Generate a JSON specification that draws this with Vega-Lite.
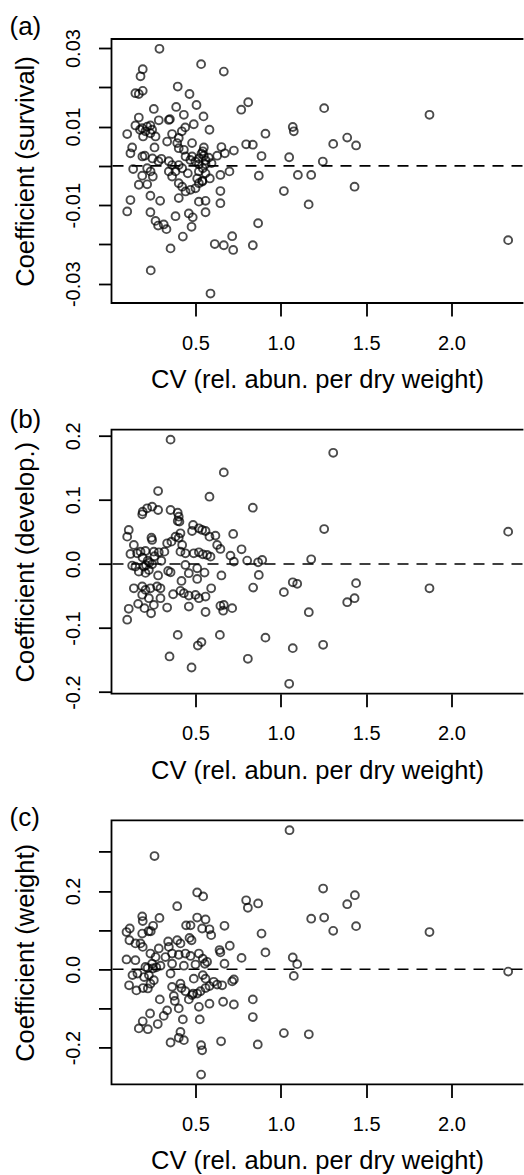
{
"$schema": "https://vega.github.io/schema/vega-lite/v6.json",
"padding": {"left": 7.5, "right": 0, "top": 12, "bottom": 0},
"bounds": "flush",
"spacing": 126.7,
"config": {
  "font": "Liberation Sans",
  "view": {"stroke": "black", "strokeWidth": 1.8, "strokeCap": "square", "strokeDash": [411, 264, 675, 0]},
  "axis": {"domain": false, "grid": false, "tickSize": 13, "tickWidth": 1.8, "tickColor": "black", "labelColor": "black", "labelFont": "Liberation Sans", "labelFontSize": 20, "titleColor": "black", "titleFont": "Liberation Sans", "titleFontSize": 25.5, "titleFontWeight": "normal", "labelOverlap": false, "labelFlush": false},
  "title": {"font": "Liberation Sans", "fontSize": 26, "fontWeight": "normal", "color": "black", "anchor": "start", "frame": "group", "dx": -102, "dy": 18, "baseline": "alphabetic", "offset": 7}
},
"datasets": {
"a": [
{"cv":0.289,"coef":0.0298},{"cv":0.533,"coef":0.0259},{"cv":0.666,"coef":0.024},{"cv":0.191,"coef":0.0246},{"cv":0.178,"coef":0.0228},{"cv":0.148,"coef":0.0185},{"cv":0.168,"coef":0.0183},{"cv":0.191,"coef":0.0191},{"cv":0.396,"coef":0.0202},{"cv":0.465,"coef":0.0183},{"cv":0.506,"coef":0.0155},{"cv":0.387,"coef":0.015},{"cv":0.256,"coef":0.0145},{"cv":0.432,"coef":0.013},{"cv":0.547,"coef":0.0126},{"cv":0.768,"coef":0.0143},{"cv":0.809,"coef":0.0162},{"cv":1.254,"coef":0.0147},{"cv":1.871,"coef":0.013},{"cv":0.168,"coef":0.0123},{"cv":0.285,"coef":0.0116},{"cv":0.344,"coef":0.0117},{"cv":0.35,"coef":0.0119},{"cv":0.1,"coef":0.0081},
{"cv":0.148,"coef":0.0103},{"cv":0.188,"coef":0.0096},{"cv":0.217,"coef":0.01},{"cv":0.236,"coef":0.0103},{"cv":0.246,"coef":0.0092},{"cv":0.193,"coef":0.0075},{"cv":0.236,"coef":0.0083},{"cv":0.266,"coef":0.0075},{"cv":0.207,"coef":0.0088},{"cv":0.175,"coef":0.0092},
{"cv":0.49,"coef":0.0106},{"cv":0.44,"coef":0.0098},{"cv":0.42,"coef":0.0088},{"cv":0.582,"coef":0.0092},{"cv":0.363,"coef":0.0081},{"cv":0.402,"coef":0.0071},{"cv":0.334,"coef":0.0062},{"cv":0.393,"coef":0.0058},{"cv":0.129,"coef":0.0047},{"cv":0.119,"coef":0.0032},{"cv":0.26,"coef":0.0047},{"cv":0.48,"coef":0.0058},{"cv":0.402,"coef":0.0045},{"cv":0.432,"coef":0.0041},{"cv":0.549,"coef":0.0047},{"cv":0.543,"coef":0.0037},{"cv":0.652,"coef":0.0048},{"cv":0.672,"coef":0.0032},{"cv":0.725,"coef":0.0039},{"cv":0.797,"coef":0.0055},{"cv":0.836,"coef":0.0054},{"cv":0.91,"coef":0.0082},{"cv":1.07,"coef":0.0099},{"cv":1.076,"coef":0.0088},{"cv":1.307,"coef":0.0056},{"cv":1.389,"coef":0.0072},{"cv":1.441,"coef":0.0052},{"cv":0.887,"coef":0.0025},{"cv":1.049,"coef":0.0022},{"cv":1.246,"coef":0.0011},
{"cv":0.189,"coef":0.0024},{"cv":0.203,"coef":0.0026},{"cv":0.248,"coef":0.0019},{"cv":0.283,"coef":0.0012},{"cv":0.344,"coef":0.0012},{"cv":0.363,"coef":0.0002},{"cv":0.402,"coef":0.0002},{"cv":0.48,"coef":0.0024},{"cv":0.5,"coef":0.0011},{"cv":0.52,"coef":0.0019},{"cv":0.549,"coef":0.0026},{"cv":0.578,"coef":0.0021},{"cv":0.627,"coef":0.0026},{"cv":0.594,"coef":0.0007},{"cv":0.52,"coef":0.0004},{"cv":0.559,"coef":0.0004},{"cv":0.442,"coef":0.0024},{"cv":0.3,"coef":0.0018},{"cv":0.47,"coef":0.0015},{"cv":0.535,"coef":0.0031},{"cv":0.56,"coef":0.0014},
{"cv":0.135,"coef":-0.0008},{"cv":0.217,"coef":-0.0006},{"cv":0.237,"coef":-0.0014},{"cv":0.344,"coef":-0.0014},{"cv":0.363,"coef":-0.0027},{"cv":0.383,"coef":-0.0014},{"cv":0.422,"coef":-0.0006},{"cv":0.455,"coef":-0.0019},{"cv":0.52,"coef":-0.0014},{"cv":0.543,"coef":-0.0006},{"cv":0.559,"coef":-0.0019},{"cv":0.584,"coef":-0.0032},{"cv":0.51,"coef":-0.0032},{"cv":0.54,"coef":-0.004},{"cv":0.646,"coef":-0.0023},{"cv":0.699,"coef":-0.0014},{"cv":0.871,"coef":-0.0025},{"cv":1.1,"coef":-0.0023},{"cv":1.178,"coef":-0.0023},{"cv":0.188,"coef":-0.0025},{"cv":0.25,"coef":-0.0027},{"cv":0.168,"coef":-0.0048},{"cv":0.217,"coef":-0.0047},{"cv":0.402,"coef":-0.0044},{"cv":0.422,"coef":-0.0053},{"cv":0.442,"coef":-0.0065},{"cv":0.471,"coef":-0.0061},{"cv":0.5,"coef":-0.0057},{"cv":0.52,"coef":-0.0044},{"cv":0.54,"coef":-0.0038},{"cv":0.646,"coef":-0.0064},{"cv":1.018,"coef":-0.0064},{"cv":1.432,"coef":-0.0053},{"cv":0.236,"coef":-0.0076},{"cv":0.119,"coef":-0.0087},{"cv":0.293,"coef":-0.0089},{"cv":0.402,"coef":-0.0082},{"cv":0.52,"coef":-0.0091},{"cv":0.559,"coef":-0.0089},{"cv":0.646,"coef":-0.0095},{"cv":1.163,"coef":-0.0098},{"cv":0.1,"coef":-0.0116},{"cv":0.236,"coef":-0.0118},{"cv":0.266,"coef":-0.014},{"cv":0.281,"coef":-0.0152},{"cv":0.314,"coef":-0.0149},{"cv":0.33,"coef":-0.0161},{"cv":0.383,"coef":-0.0128},{"cv":0.461,"coef":-0.0121},{"cv":0.484,"coef":-0.0131},{"cv":0.477,"coef":-0.0155},{"cv":0.559,"coef":-0.0118},{"cv":0.426,"coef":-0.018},{"cv":0.354,"coef":-0.021},{"cv":0.613,"coef":-0.0199},{"cv":0.666,"coef":-0.0202},{"cv":0.715,"coef":-0.0179},{"cv":0.721,"coef":-0.0214},{"cv":0.836,"coef":-0.0202},{"cv":0.867,"coef":-0.0146},{"cv":0.238,"coef":-0.0266},{"cv":0.588,"coef":-0.0325},{"cv":2.332,"coef":-0.0189}
],
"b": [
{"cv":0.354,"coef":0.194},{"cv":1.307,"coef":0.1735},{"cv":0.666,"coef":0.1429},{"cv":0.281,"coef":0.1138},{"cv":0.582,"coef":0.1049},{"cv":0.836,"coef":0.0878},
{"cv":0.188,"coef":0.0774},{"cv":0.191,"coef":0.0816},{"cv":0.217,"coef":0.0868},{"cv":0.246,"coef":0.0894},{"cv":0.281,"coef":0.0842},{"cv":0.354,"coef":0.0842},
{"cv":0.396,"coef":0.08},{"cv":0.402,"coef":0.0738},{"cv":0.396,"coef":0.067},{"cv":0.406,"coef":0.066},{"cv":1.254,"coef":0.0545},{"cv":2.332,"coef":0.0504},{"cv":0.109,"coef":0.053},{"cv":0.1,"coef":0.0426},
{"cv":0.486,"coef":0.0608},{"cv":0.48,"coef":0.0514},{"cv":0.52,"coef":0.0556},{"cv":0.539,"coef":0.053},{"cv":0.559,"coef":0.0514},{"cv":0.582,"coef":0.0426},{"cv":0.617,"coef":0.0442},{"cv":0.721,"coef":0.0468},
{"cv":0.412,"coef":0.0478},{"cv":0.402,"coef":0.041},{"cv":0.383,"coef":0.0426},{"cv":0.359,"coef":0.0348},{"cv":0.334,"coef":0.0322},{"cv":0.422,"coef":0.0296},{"cv":0.242,"coef":0.041},{"cv":0.246,"coef":0.0374},{"cv":0.139,"coef":0.0296},{"cv":0.627,"coef":0.0296},{"cv":0.646,"coef":0.0234},{"cv":0.77,"coef":0.0229},
{"cv":0.119,"coef":0.0156},{"cv":0.158,"coef":0.0166},{"cv":0.178,"coef":0.0192},{"cv":0.207,"coef":0.0203},{"cv":0.256,"coef":0.0192},{"cv":0.285,"coef":0.0182},{"cv":0.318,"coef":0.0192},
{"cv":0.412,"coef":0.0192},{"cv":0.441,"coef":0.0166},{"cv":0.49,"coef":0.0166},{"cv":0.52,"coef":0.0182},{"cv":0.543,"coef":0.015},{"cv":0.568,"coef":0.014},{"cv":0.588,"coef":0.0114},
{"cv":0.705,"coef":0.013},{"cv":0.725,"coef":0.0036},{"cv":0.803,"coef":0.0052},{"cv":0.867,"coef":0.0026},{"cv":0.891,"coef":0.0062},{"cv":1.178,"coef":0.0073},
{"cv":0.129,"coef":-0.0026},{"cv":0.148,"coef":-0.0042},{"cv":0.168,"coef":-0.012},{"cv":0.197,"coef":-0.0042},{"cv":0.227,"coef":-0.0094},{"cv":0.246,"coef":-0.0005},
{"cv":0.281,"coef":-0.018},{"cv":0.34,"coef":-0.011},{"cv":0.354,"coef":-0.013},{"cv":0.441,"coef":-0.0016},{"cv":0.461,"coef":-0.0145},{"cv":0.51,"coef":-0.0068},{"cv":0.553,"coef":-0.0135},{"cv":0.652,"coef":-0.018},{"cv":0.871,"coef":-0.0172},
{"cv":0.207,"coef":-0.014},{"cv":0.418,"coef":-0.0265},{"cv":0.51,"coef":-0.0234},
{"cv":1.07,"coef":-0.0286},{"cv":1.096,"coef":-0.031},{"cv":1.441,"coef":-0.03},{"cv":1.871,"coef":-0.038},
{"cv":0.139,"coef":-0.038},{"cv":0.188,"coef":-0.035},{"cv":0.207,"coef":-0.0405},{"cv":0.236,"coef":-0.038},{"cv":0.275,"coef":-0.035},{"cv":0.295,"coef":-0.038},
{"cv":0.369,"coef":-0.0473},{"cv":0.412,"coef":-0.042},{"cv":0.432,"coef":-0.0457},{"cv":0.461,"coef":-0.0494},{"cv":0.5,"coef":-0.0483},{"cv":0.52,"coef":-0.0535},{"cv":0.559,"coef":-0.0509},{"cv":0.592,"coef":-0.038},
{"cv":0.838,"coef":-0.0369},{"cv":1.018,"coef":-0.044},{"cv":1.432,"coef":-0.0535},{"cv":1.389,"coef":-0.0597},
{"cv":0.188,"coef":-0.048},{"cv":0.227,"coef":-0.0535},{"cv":0.295,"coef":-0.0535},{"cv":0.256,"coef":-0.0639},{"cv":0.164,"coef":-0.0623},{"cv":0.109,"coef":-0.07},{"cv":0.1,"coef":-0.087},{"cv":0.201,"coef":-0.069},{"cv":0.24,"coef":-0.077},{"cv":0.334,"coef":-0.068},
{"cv":0.461,"coef":-0.0665},{"cv":0.559,"coef":-0.075},{"cv":0.646,"coef":-0.0654},{"cv":0.666,"coef":-0.0639},{"cv":0.662,"coef":-0.073},{"cv":0.715,"coef":-0.069},{"cv":1.164,"coef":-0.0753},
{"cv":0.396,"coef":-0.1107},{"cv":0.643,"coef":-0.1107},{"cv":0.91,"coef":-0.115},{"cv":0.514,"coef":-0.1273},{"cv":0.535,"coef":-0.122},{"cv":1.07,"coef":-0.1314},{"cv":1.248,"coef":-0.1262},{"cv":0.348,"coef":-0.1444},{"cv":0.807,"coef":-0.148},{"cv":0.477,"coef":-0.1616},{"cv":1.049,"coef":-0.187},
{"cv":0.19,"coef":0.01},{"cv":0.22,"coef":0.005},{"cv":0.26,"coef":0.012},{"cv":0.3,"coef":0.005},{"cv":0.21,"coef":-0.002},{"cv":0.23,"coef":0.002}
],
"c": [
{"cv":1.051,"coef":0.355},{"cv":0.26,"coef":0.289},{"cv":1.248,"coef":0.206},{"cv":0.51,"coef":0.196},{"cv":0.545,"coef":0.186},{"cv":1.434,"coef":0.189},{"cv":1.389,"coef":0.166},{"cv":0.797,"coef":0.176},{"cv":0.807,"coef":0.157},{"cv":0.867,"coef":0.168},{"cv":0.393,"coef":0.161},
{"cv":0.188,"coef":0.135},{"cv":0.191,"coef":0.123},{"cv":0.289,"coef":0.131},{"cv":0.51,"coef":0.132},{"cv":0.559,"coef":0.127},{"cv":1.178,"coef":0.129},{"cv":1.254,"coef":0.132},{"cv":0.445,"coef":0.112},{"cv":0.471,"coef":0.112},{"cv":0.252,"coef":0.111},{"cv":0.238,"coef":0.097},{"cv":0.225,"coef":0.097},{"cv":0.67,"coef":0.111},{"cv":1.441,"coef":0.11},{"cv":0.539,"coef":0.104},{"cv":0.582,"coef":0.102},{"cv":0.592,"coef":0.087},{"cv":1.307,"coef":0.098},{"cv":1.871,"coef":0.095},
{"cv":0.096,"coef":0.095},{"cv":0.115,"coef":0.104},{"cv":0.113,"coef":0.074},{"cv":0.148,"coef":0.066},{"cv":0.188,"coef":0.091},{"cv":0.178,"coef":0.066},{"cv":0.191,"coef":0.057},{"cv":0.887,"coef":0.091},{"cv":0.465,"coef":0.08},{"cv":0.477,"coef":0.074},{"cv":0.34,"coef":0.071},{"cv":0.393,"coef":0.074},{"cv":0.412,"coef":0.066},{"cv":0.285,"coef":0.053},{"cv":0.344,"coef":0.057},{"cv":0.641,"coef":0.049},{"cv":0.646,"coef":0.043},{"cv":0.701,"coef":0.06},{"cv":0.91,"coef":0.043},
{"cv":0.096,"coef":0.025},{"cv":0.148,"coef":0.023},{"cv":0.236,"coef":0.04},{"cv":0.266,"coef":0.031},{"cv":0.324,"coef":0.031},{"cv":0.363,"coef":0.04},{"cv":0.402,"coef":0.037},{"cv":0.441,"coef":0.04},{"cv":0.471,"coef":0.034},{"cv":0.52,"coef":0.04},{"cv":0.543,"coef":0.027},{"cv":0.568,"coef":0.019},{"cv":0.207,"coef":0.006},{"cv":0.246,"coef":0.014},{"cv":0.295,"coef":0.009},{"cv":0.363,"coef":0.014},{"cv":0.432,"coef":0.009},{"cv":0.5,"coef":0.012},{"cv":0.555,"coef":0.014},{"cv":0.22,"coef":0.003},{"cv":0.25,"coef":0.002},{"cv":0.27,"coef":0.005},
{"cv":0.77,"coef":0.029},{"cv":0.67,"coef":0.014},{"cv":1.07,"coef":0.03},{"cv":1.096,"coef":0.013},{"cv":2.332,"coef":-0.006},
{"cv":0.131,"coef":-0.015},{"cv":0.16,"coef":-0.011},{"cv":0.199,"coef":-0.02},{"cv":0.227,"coef":-0.015},{"cv":0.256,"coef":-0.028},{"cv":0.111,"coef":-0.041},{"cv":0.154,"coef":-0.054},{"cv":0.193,"coef":-0.048},{"cv":0.221,"coef":-0.049},{"cv":0.236,"coef":-0.037},{"cv":0.354,"coef":-0.011},
{"cv":0.49,"coef":-0.024},{"cv":0.543,"coef":-0.015},{"cv":0.559,"coef":-0.024},{"cv":0.607,"coef":-0.032},{"cv":0.627,"coef":-0.039},{"cv":0.656,"coef":-0.041},{"cv":0.715,"coef":-0.031},{"cv":0.725,"coef":-0.026},
{"cv":0.363,"coef":-0.045},{"cv":0.412,"coef":-0.037},{"cv":0.418,"coef":-0.048},{"cv":0.441,"coef":-0.056},{"cv":0.48,"coef":-0.066},{"cv":0.51,"coef":-0.062},{"cv":0.529,"coef":-0.056},{"cv":0.559,"coef":-0.048},{"cv":0.582,"coef":-0.043},
{"cv":0.373,"coef":-0.068},{"cv":0.379,"coef":-0.081},{"cv":0.461,"coef":-0.077},{"cv":0.486,"coef":-0.062},{"cv":0.291,"coef":-0.077},{"cv":0.52,"coef":-0.096},{"cv":0.582,"coef":-0.088},{"cv":0.662,"coef":-0.083},{"cv":0.725,"coef":-0.09},{"cv":0.836,"coef":-0.077},{"cv":1.076,"coef":-0.017},
{"cv":0.334,"coef":-0.105},{"cv":0.402,"coef":-0.1},{"cv":0.234,"coef":-0.113},{"cv":0.314,"coef":-0.119},{"cv":0.426,"coef":-0.128},{"cv":0.525,"coef":-0.128},{"cv":0.836,"coef":-0.122},{"cv":0.191,"coef":-0.133},{"cv":0.168,"coef":-0.151},{"cv":0.221,"coef":-0.153},{"cv":0.279,"coef":-0.14},{"cv":0.412,"coef":-0.16},{"cv":0.402,"coef":-0.175},{"cv":0.432,"coef":-0.181},{"cv":0.354,"coef":-0.187},{"cv":0.533,"coef":-0.194},{"cv":0.539,"coef":-0.207},{"cv":0.65,"coef":-0.184},{"cv":0.865,"coef":-0.192},{"cv":1.018,"coef":-0.163},{"cv":1.164,"coef":-0.166},{"cv":0.533,"coef":-0.269}
]
},
"vconcat": [
{
  "width": 411, "height": 264,
  "title": {"text": "(a)"},
  "layer": [
    {"data": {"name": "a"},
     "mark": {"type": "point", "shape": "circle", "filled": false, "stroke": "black", "strokeWidth": 1.9, "size": 62},
     "encoding": {
       "x": {"field": "cv", "type": "quantitative", "scale": {"domain": [0.008, 2.416], "nice": false, "zero": false},
             "axis": {"title": "CV (rel. abun. per dry weight)", "values": [0.5, 1, 1.5, 2], "labelExpr": "format(datum.value, '.1f')", "labelBaseline": "alphabetic", "labelPadding": 33, "titleBaseline": "alphabetic", "titleY": 84.4, "titleX": 205.5, "titleAlign": "center"}},
       "y": {"field": "coef", "type": "quantitative", "scale": {"domain": [-0.0349, 0.0323], "nice": false, "zero": false},
             "axis": {"title": "Coefficient (survival)", "values": [-0.03, -0.02, -0.01, 0, 0.01, 0.02, 0.03], "labelExpr": "abs(round(datum.value*100)) % 2 == 1 ? replace(format(datum.value, '.2f'), '\u2212', '-') : ''", "labelAngle": 270, "labelAlign": "center", "labelBaseline": "alphabetic", "labelPadding": 19, "titleAngle": 270, "titleBaseline": "alphabetic", "titleAlign": "center", "titleX": -77.7, "titleY": 132}}
     }},
    {"data": {"values": [{}]},
     "mark": {"type": "rule", "stroke": "black", "strokeWidth": 1.6, "strokeDash": [11, 8]},
     "encoding": {"y": {"datum": 0}}}
  ]
},
{
  "width": 411, "height": 264,
  "title": {"text": "(b)"},
  "layer": [
    {"data": {"name": "b"},
     "mark": {"type": "point", "shape": "circle", "filled": false, "stroke": "black", "strokeWidth": 1.9, "size": 62},
     "encoding": {
       "x": {"field": "cv", "type": "quantitative", "scale": {"domain": [0.008, 2.416], "nice": false, "zero": false},
             "axis": {"title": "CV (rel. abun. per dry weight)", "values": [0.5, 1, 1.5, 2], "labelExpr": "format(datum.value, '.1f')", "labelBaseline": "alphabetic", "labelPadding": 33, "titleBaseline": "alphabetic", "titleY": 84.4, "titleX": 205.5, "titleAlign": "center"}},
       "y": {"field": "coef", "type": "quantitative", "scale": {"domain": [-0.2025, 0.2095], "nice": false, "zero": false},
             "axis": {"title": "Coefficient (develop.)", "values": [-0.2, -0.1, 0, 0.1, 0.2], "labelExpr": "replace(format(datum.value, '.1f'), '\u2212', '-')", "labelAngle": 270, "labelAlign": "center", "labelBaseline": "alphabetic", "labelPadding": 19, "titleAngle": 270, "titleBaseline": "alphabetic", "titleAlign": "center", "titleX": -77.7, "titleY": 132}}
     }},
    {"data": {"values": [{}]},
     "mark": {"type": "rule", "stroke": "black", "strokeWidth": 1.6, "strokeDash": [11, 8]},
     "encoding": {"y": {"datum": 0}}}
  ]
},
{
  "width": 411, "height": 264,
  "title": {"text": "(c)"},
  "layer": [
    {"data": {"name": "c"},
     "mark": {"type": "point", "shape": "circle", "filled": false, "stroke": "black", "strokeWidth": 1.9, "size": 62},
     "encoding": {
       "x": {"field": "cv", "type": "quantitative", "scale": {"domain": [0.008, 2.416], "nice": false, "zero": false},
             "axis": {"title": "CV (rel. abun. per dry weight)", "values": [0.5, 1, 1.5, 2], "labelExpr": "format(datum.value, '.1f')", "labelBaseline": "alphabetic", "labelPadding": 33, "titleBaseline": "alphabetic", "titleY": 84.4, "titleX": 205.5, "titleAlign": "center"}},
       "y": {"field": "coef", "type": "quantitative", "scale": {"domain": [-0.294, 0.38], "nice": false, "zero": false},
             "axis": {"title": "Coefficient (weight)", "values": [-0.2, -0.1, 0, 0.1, 0.2, 0.3], "labelExpr": "abs(round(datum.value*10)) % 2 == 0 ? replace(format(datum.value, '.1f'), '\u2212', '-') : ''", "labelAngle": 270, "labelAlign": "center", "labelBaseline": "alphabetic", "labelPadding": 19, "titleAngle": 270, "titleBaseline": "alphabetic", "titleAlign": "center", "titleX": -77.7, "titleY": 132}}
     }},
    {"data": {"values": [{}]},
     "mark": {"type": "rule", "stroke": "black", "strokeWidth": 1.6, "strokeDash": [11, 8]},
     "encoding": {"y": {"datum": 0}}}
  ]
}
]
}
